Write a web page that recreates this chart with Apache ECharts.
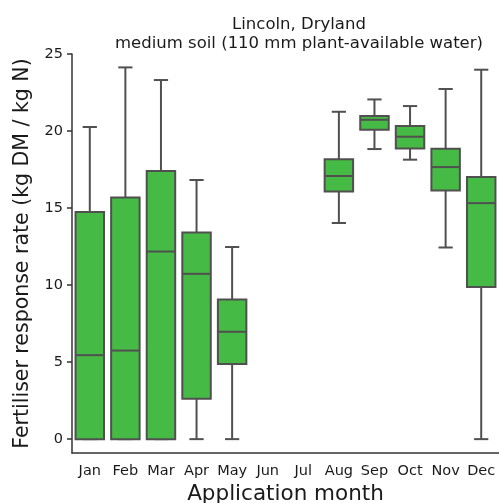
<!DOCTYPE html>
<html>
<head>
<meta charset="utf-8">
<script src="https://cdn.jsdelivr.net/npm/echarts@6/dist/echarts.min.js"></script>
<style>html,body{margin:0;padding:0;background:#fff}#c{width:499px;height:503px}</style>
</head>
<body>
<div id="c"></div>
<script>
const months = ['Jan','Feb','Mar','Apr','May','Jun','Jul','Aug','Sep','Oct','Nov','Dec'];
const whiskerLow  = [0,     0,     0,     0,     0,    null, null, 14.03, 18.83, 18.14, 12.44, 0];
const q1          = [0,     0,     0,     2.62,  4.87, null, null, 16.08, 20.08, 18.87, 16.14, 9.87];
const median      = [5.45,  5.75,  12.18, 10.73, 6.97, null, null, 17.08, 20.73, 19.63, 17.66, 15.32];
const q3          = [14.74, 15.69, 17.40, 13.42, 9.07, null, null, 18.16, 20.97, 20.32, 18.85, 17.01];
const whiskerHigh = [20.26, 24.13, 23.31, 16.82, 12.47,null, null, 21.25, 22.05, 21.62, 22.73, 23.98];
const yTicks = [0, 5, 10, 15, 20, 25];

const boxData = [];
months.forEach((m, i) => {
  if (median[i] !== null) boxData.push([i, whiskerLow[i], q1[i], median[i], q3[i], whiskerHigh[i]]);
});

const FILL = '#45ba44';
const EDGE = '#505050';
const AXIS = '#333333';
const FONT = 'DejaVu Sans';

function renderItem(params, api) {
  const idx = api.value(0);
  const x = api.coord([idx, 0])[0];
  const band = api.size([1, 0])[0];
  const bw = band * 0.8;
  const cw = bw * 0.5;
  const y = v => api.coord([idx, v])[1];
  const yLo = y(api.value(1)), yQ1 = y(api.value(2)), yMed = y(api.value(3)), yQ3 = y(api.value(4)), yHi = y(api.value(5));
  const ls = {stroke: EDGE, lineWidth: 2};
  const children = [
    {type: 'line', shape: {x1: x, y1: yQ3, x2: x, y2: yHi}, style: ls},
    {type: 'line', shape: {x1: x, y1: yQ1, x2: x, y2: yLo}, style: ls},
    {type: 'line', shape: {x1: x - cw/2, y1: yHi, x2: x + cw/2, y2: yHi}, style: ls},
    {type: 'line', shape: {x1: x - cw/2, y1: yLo, x2: x + cw/2, y2: yLo}, style: ls},
    {type: 'rect', shape: {x: x - bw/2, y: yQ3, width: bw, height: yQ1 - yQ3}, style: {fill: FILL, stroke: EDGE, lineWidth: 2}},
    {type: 'line', shape: {x1: x - bw/2, y1: yMed, x2: x + bw/2, y2: yMed}, style: ls}
  ];
  return {type: 'group', children};
}

const chart = echarts.init(document.getElementById('c'), null, {renderer: 'canvas'});
chart.setOption({
  animation: false,
  backgroundColor: '#fff',
  title: {
    text: 'Lincoln, Dryland\nmedium soil (110 mm plant-available water)',
    left: 299, top: 15, padding: 0, textAlign: 'center',
    textStyle: {fontFamily: FONT, fontSize: 16.5, fontWeight: 'normal', color: '#1a1a1a', lineHeight: 19}
  },
  grid: {left: 72, right: 0, top: 54, bottom: 50, containLabel: false, outerBoundsMode: 'none'},
  xAxis: {
    type: 'category', data: months, boundaryGap: true,
    name: 'Application month', nameLocation: 'middle', nameGap: 29,
    nameTextStyle: {fontFamily: FONT, fontSize: 21.5, color: '#1a1a1a'},
    axisLine: {onZero: false, lineStyle: {color: AXIS, width: 1.5}},
    axisTick: {alignWithLabel: true, length: 5, lineStyle: {color: AXIS, width: 1.5}},
    axisLabel: {fontFamily: FONT, fontSize: 14.5, color: '#1a1a1a', margin: 11, interval: 0},
    splitLine: {show: false}
  },
  yAxis: {
    type: 'value', min: -0.9, max: 25,
    name: 'Fertiliser response rate (kg DM / kg N)', nameLocation: 'middle', nameGap: 39,
    nameTextStyle: {fontFamily: FONT, fontSize: 20.5, color: '#1a1a1a'},
    axisLine: {show: true, onZero: false, lineStyle: {color: AXIS, width: 1.5}},
    axisTick: {show: true, length: 5, customValues: yTicks, lineStyle: {color: AXIS, width: 1.5}},
    axisLabel: {fontFamily: FONT, fontSize: 14.5, color: '#1a1a1a', margin: 9, customValues: yTicks},
    splitLine: {show: false}
  },
  series: [{
    type: 'custom',
    renderItem: renderItem,
    encode: {x: 0, y: [1, 2, 3, 4, 5]},
    data: boxData
  }]
});
</script>
</body>
</html>
